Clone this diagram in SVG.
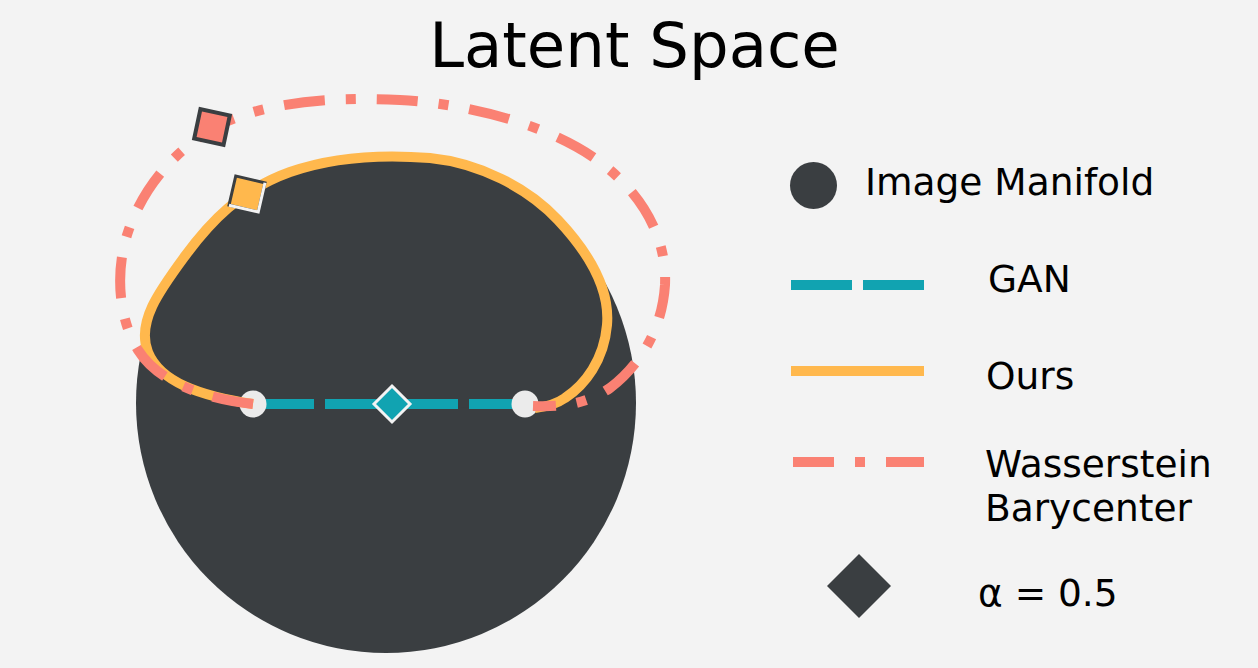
<svg xmlns="http://www.w3.org/2000/svg" width="1258" height="668" viewBox="0 0 1258 668">
<style>
text{font-family:"DejaVu Sans","Liberation Sans",sans-serif;fill:#000}
.lbl{font-size:37.5px}
.gan{stroke:#11a3b1;stroke-width:10;fill:none;stroke-dasharray:61 11}
.ours{stroke:#ffb84d;stroke-width:10;fill:none}
.wb{stroke:#fa8173;stroke-width:10;fill:none;stroke-dasharray:41 21 10 21}
.dark{fill:#3a3e41}
.pt{fill:#ebebeb}
</style>
<defs>
<path id="oursPath" d="M253,404 C200,396 160,382 148,352 C136,322 160,290 185,256 C210,222 240,190 290,172 C330,158 380,154 430,158 C480,163 528,188 558,220 C590,254 610,290 607,325 C604,360 585,385 565,398 C555,405 545,407 535,408"/>
</defs>
<rect width="1258" height="668" fill="#f3f3f3"/>
<text x="634.5" y="67" font-size="62.5" text-anchor="middle">Latent Space</text>
<g id="manifold"><circle class="dark" cx="386" cy="403" r="250"/><use href="#oursPath" class="dark"/></g>
<g id="connectors">
<line class="gan" x1="253" y1="404" x2="525" y2="404"/>
<g id="endpoints"><circle class="pt" cx="253" cy="404" r="13.5"/><circle class="pt" cx="525" cy="404" r="13.5"/></g>
<use href="#oursPath" class="ours"/>
<path class="wb" d="M253,404 C210,399 160,385 138,350 C118,318 115,270 128,232 C142,190 175,145 230,120 C280,100 340,97 400,100 C470,104 550,125 600,162 C645,196 667,240 665,285 C662,330 640,365 610,388 C585,405 560,407 533,406"/>
</g>
<g id="gan-mid"><polygon points="392,386 410,404 392,422 374,404" fill="#11a3b1" stroke="#f3f3f3" stroke-width="3"/></g>
<g id="wb-mark" transform="translate(212,127) rotate(12)"><rect x="-15" y="-15" width="30" height="30" fill="#fa8173" stroke="#3a3e41" stroke-width="4"/></g>
<g id="ours-mark" transform="translate(247,194) rotate(13)"><rect x="-15" y="-15" width="30" height="30" fill="#ffb84d" stroke="#3a3e41" stroke-width="3"/><polyline points="-15,15 15,15 15,-15" fill="none" stroke="#f3f3f3" stroke-width="3"/></g>
<g id="legend">
<g id="leg-manifold"><circle class="dark" cx="813.5" cy="185.5" r="23.5"/><text class="lbl" x="865" y="195">Image Manifold</text></g>
<g id="leg-gan"><line class="gan" x1="791" y1="285" x2="924" y2="285"/><text class="lbl" x="988" y="292">GAN</text></g>
<g id="leg-ours"><line class="ours" x1="791" y1="371" x2="924" y2="371"/><text class="lbl" x="986" y="389">Ours</text></g>
<g id="leg-wb"><line class="wb" x1="793" y1="462" x2="924" y2="462"/><text class="lbl" x="985" y="477">Wasserstein</text><text class="lbl" x="985" y="521">Barycenter</text></g>
<g id="leg-alpha"><polygon class="dark" points="859,554 891,586 859,618 827,586"/><text class="lbl" x="978" y="606">α = 0.5</text></g>
</g>
</svg>
